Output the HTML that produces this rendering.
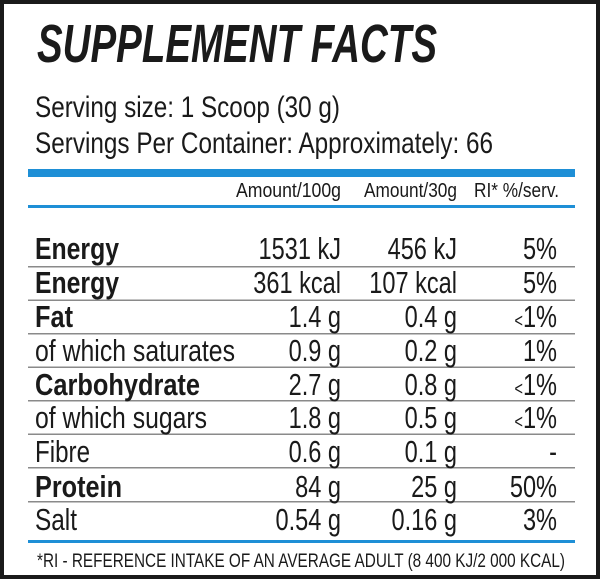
<!DOCTYPE html>
<html><head><style>
html,body{margin:0;padding:0;background:#fff;}
svg{display:block;}
text{font-family:"Liberation Sans",sans-serif;fill:#1a1a1a;}
</style></head><body>
<svg width="600" height="579" viewBox="0 0 600 579" xmlns="http://www.w3.org/2000/svg">
<rect x="2" y="2" width="596" height="575" fill="#fff" stroke="#1a1a1a" stroke-width="4"/>
<text x="37" y="62" font-size="54" font-weight="bold" font-style="italic" textLength="400" lengthAdjust="spacingAndGlyphs">SUPPLEMENT FACTS</text>
<text x="35" y="117" font-size="30" textLength="305" lengthAdjust="spacingAndGlyphs">Serving size: 1 Scoop (30 g)</text>
<text x="35" y="153" font-size="30" textLength="458" lengthAdjust="spacingAndGlyphs">Servings Per Container: Approximately: 66</text>
<rect x="28" y="169" width="547" height="8" fill="#1e8fd6"/>
<text x="236" y="197" font-size="20" textLength="105" lengthAdjust="spacingAndGlyphs">Amount/100g</text>
<text x="364" y="197" font-size="20" textLength="93" lengthAdjust="spacingAndGlyphs">Amount/30g</text>
<text x="474" y="197" font-size="20" textLength="85" lengthAdjust="spacingAndGlyphs">RI* %/serv.</text>
<rect x="28" y="205" width="547" height="3" fill="#1e8fd6"/>
<g fill="#8a8a8a">
<rect x="28" y="266" width="547" height="1.5"/><rect x="28" y="299.5" width="547" height="1.5"/>
<rect x="28" y="333" width="547" height="1.5"/><rect x="28" y="366.5" width="547" height="1.5"/>
<rect x="28" y="400" width="547" height="1.5"/><rect x="28" y="433.5" width="547" height="1.5"/>
<rect x="28" y="467" width="547" height="1.5"/><rect x="28" y="501" width="547" height="1.5"/>
</g>
<g font-size="31">
<text x="35" y="259" font-weight="bold" textLength="84" lengthAdjust="spacingAndGlyphs">Energy</text>
<text x="35" y="293" font-weight="bold" textLength="84" lengthAdjust="spacingAndGlyphs">Energy</text>
<text x="35" y="327" font-weight="bold" textLength="38" lengthAdjust="spacingAndGlyphs">Fat</text>
<text x="35" y="361" textLength="200" lengthAdjust="spacingAndGlyphs">of which saturates</text>
<text x="35" y="395" font-weight="bold" textLength="165" lengthAdjust="spacingAndGlyphs">Carbohydrate</text>
<text x="35" y="428" textLength="172" lengthAdjust="spacingAndGlyphs">of which sugars</text>
<text x="35" y="462" textLength="55" lengthAdjust="spacingAndGlyphs">Fibre</text>
<text x="35" y="497" font-weight="bold" textLength="87" lengthAdjust="spacingAndGlyphs">Protein</text>
<text x="35" y="530" textLength="42" lengthAdjust="spacingAndGlyphs">Salt</text>
</g>
<g font-size="31" text-anchor="end">
<text transform="translate(341,259) scale(0.76,1)">1531 kJ</text>
<text transform="translate(457,259) scale(0.76,1)">456 kJ</text>
<text transform="translate(557,259) scale(0.76,1)">5%</text>
<text transform="translate(341,293) scale(0.76,1)">361 kcal</text>
<text transform="translate(457,293) scale(0.76,1)">107 kcal</text>
<text transform="translate(557,293) scale(0.76,1)">5%</text>
<text transform="translate(341,327) scale(0.76,1)">1.4 g</text>
<text transform="translate(457,327) scale(0.76,1)">0.4 g</text>
<text transform="translate(557,327) scale(0.76,1)"><tspan font-size="19">&lt;</tspan>1%</text>
<text transform="translate(341,361) scale(0.76,1)">0.9 g</text>
<text transform="translate(457,361) scale(0.76,1)">0.2 g</text>
<text transform="translate(557,361) scale(0.76,1)">1%</text>
<text transform="translate(341,395) scale(0.76,1)">2.7 g</text>
<text transform="translate(457,395) scale(0.76,1)">0.8 g</text>
<text transform="translate(557,395) scale(0.76,1)"><tspan font-size="19">&lt;</tspan>1%</text>
<text transform="translate(341,428) scale(0.76,1)">1.8 g</text>
<text transform="translate(457,428) scale(0.76,1)">0.5 g</text>
<text transform="translate(557,428) scale(0.76,1)"><tspan font-size="19">&lt;</tspan>1%</text>
<text transform="translate(341,462) scale(0.76,1)">0.6 g</text>
<text transform="translate(457,462) scale(0.76,1)">0.1 g</text>
<text transform="translate(557,462) scale(0.76,1)">-</text>
<text transform="translate(341,497) scale(0.76,1)">84 g</text>
<text transform="translate(457,497) scale(0.76,1)">25 g</text>
<text transform="translate(557,497) scale(0.76,1)">50%</text>
<text transform="translate(341,530) scale(0.76,1)">0.54 g</text>
<text transform="translate(457,530) scale(0.76,1)">0.16 g</text>
<text transform="translate(557,530) scale(0.76,1)">3%</text>
</g>
<rect x="28" y="540" width="547" height="3" fill="#1e8fd6"/>
<text x="37" y="567" font-size="19" textLength="528" lengthAdjust="spacingAndGlyphs">*RI - REFERENCE INTAKE OF AN AVERAGE ADULT (8 400 KJ/2 000 KCAL)</text>
</svg>
</body></html>
